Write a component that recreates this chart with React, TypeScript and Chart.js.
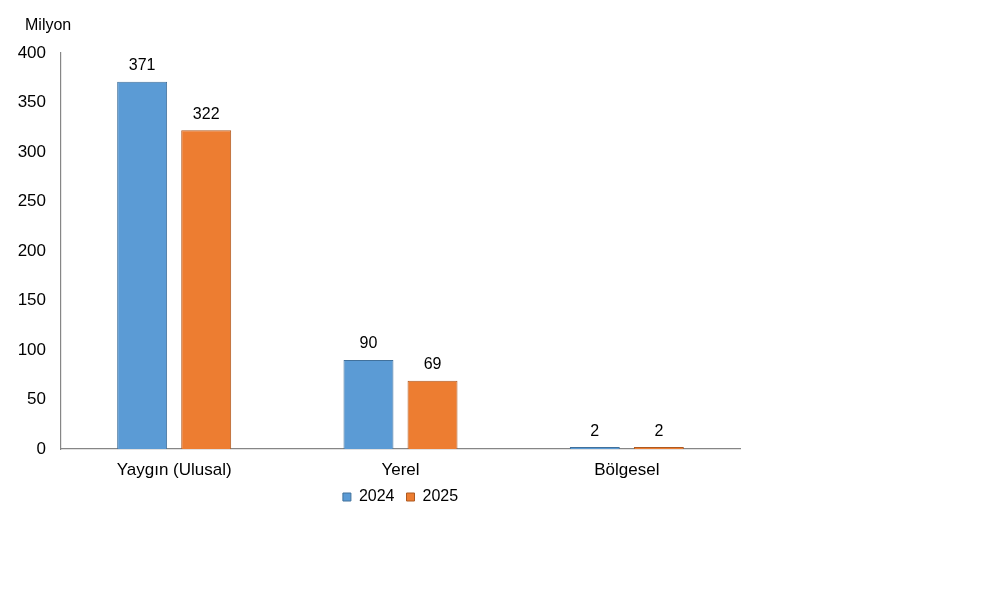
import { useEffect, useRef } from "react";
import { Chart, registerables } from "chart.js";

Chart.register(...registerables);

const categories = ["Yaygın (Ulusal)", "Yerel", "Bölgesel"];
const years = ["2024", "2025"];
const values2024 = [371, 90, 2];
const values2025 = [322, 69, 2];
const yTicks = { min: 0, max: 400, step: 50 };

const FONT = "'Liberation Sans', Arial, sans-serif";

const valueLabels = {
    id: "valueLabels",
    afterDatasetsDraw(chart: any) {
        const ctx = chart.ctx;
        ctx.save();
        ctx.font = "16px " + FONT;
        ctx.fillStyle = "#000";
        ctx.textAlign = "center";
        ctx.textBaseline = "alphabetic";
        chart.data.datasets.forEach((ds: any, i: number) => {
            chart.getDatasetMeta(i).data.forEach((bar: any, j: number) => {
                ctx.fillText(String(ds.data[j]), bar.x, bar.y - 11.5);
            });
        });
        ctx.restore();
    },
};

const unitLabel = {
    id: "unitLabel",
    afterDraw(chart: any) {
        const ctx = chart.ctx;
        ctx.save();
        ctx.font = "16px " + FONT;
        ctx.fillStyle = "#000";
        ctx.textAlign = "left";
        ctx.textBaseline = "alphabetic";
        ctx.fillText("Milyon", 25, 30);
        ctx.restore();
    },
};

// the x tick labels are clipped to the axis box; let them hang a bit below it
const roomForLabels = {
    id: "roomForLabels",
    afterLayout(chart: any) {
        chart.scales.x.bottom += 14;
    },
};

export const App = () => {
    const canvasRef: any = useRef(null);

    useEffect(() => {
        const ctx = canvasRef.current.getContext("2d");
        const myChart = new Chart(ctx, {
            type: "bar",
            data: {
                labels: categories,
                datasets: [
                    {
                        label: years[0],
                        data: values2024,
                        backgroundColor: "#5B9BD5",
                        borderColor: "#41719C",
                        borderWidth: 1,
                    },
                    {
                        label: years[1],
                        data: values2025,
                        backgroundColor: "#ED7D31",
                        borderColor: "#AE5A21",
                        borderWidth: 1,
                    },
                ],
            },
            options: {
                responsive: false,
                animation: false,
                devicePixelRatio: 1,
                layout: { padding: { left: 0, right: 260, top: 53, bottom: 78 } },
                datasets: {
                    bar: { categoryPercentage: 0.566, barPercentage: 0.78 },
                },
                scales: {
                    x: {
                        grid: { display: false, drawTicks: false },
                        border: { display: true, color: "#868686", width: 1.2 },
                        ticks: { color: "#000", font: { family: FONT, size: 17 }, padding: 11 },
                        afterFit: (scale: any) => {
                            scale.height = 28;
                        },
                    },
                    y: {
                        min: yTicks.min,
                        max: yTicks.max,
                        grid: { display: false, drawTicks: false },
                        border: { display: true, color: "#868686", width: 1.2 },
                        ticks: {
                            stepSize: yTicks.step,
                            color: "#000",
                            font: { family: FONT, size: 17 },
                            padding: 15,
                        },
                        afterFit: (scale: any) => {
                            scale.width = 61;
                        },
                    },
                },
                plugins: {
                    legend: {
                        position: "bottom",
                        fullSize: false,
                        labels: {
                            boxWidth: 8,
                            boxHeight: 8,
                            padding: 12,
                            color: "#000",
                            font: { family: FONT, size: 16 },
                        },
                    },
                    tooltip: { enabled: false },
                },
            },
            plugins: [valueLabels, unitLabel, roomForLabels],
        } as any);

        return () => {
            myChart.destroy();
        };
    }, []);

    return (
        <div style={{ position: "absolute", left: 0, top: 0, width: 1000, height: 593, background: "#fff" }}>
            <canvas ref={canvasRef} width={1000} height={593}></canvas>
        </div>
    );
};

export default App;
